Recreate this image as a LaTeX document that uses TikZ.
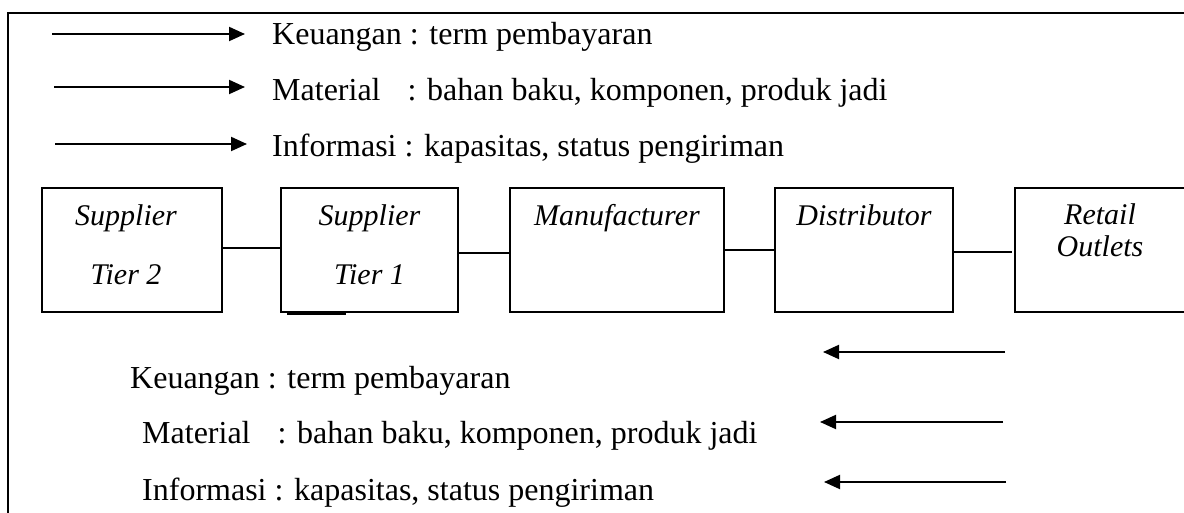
\documentclass[tikz,border=0pt]{standalone}
\usepackage{fontspec}
\setmainfont{Liberation Serif}
\usetikzlibrary{arrows.meta,positioning}
\tikzset{
  chainbox/.style={
    rectangle,
    draw=black,
    line width=2pt,
    minimum height=124pt,
    inner sep=0pt
  },
  boxtext/.style={
    font=\fontsize{30}{36}\selectfont\itshape,
    anchor=base,
    inner sep=0pt
  },
  flowtext/.style={
    font=\fontsize{32}{38}\selectfont,
    anchor=base west,
    inner sep=0pt
  },
  flow/.style={-{Triangle[length=16pt,width=14pt]}, line width=2pt},
  link/.style={line width=2pt}
}
\newcommand{\flowname}[1]{\rlap{#1}\phantom{Informasi}\hspace{3pt}}

\begin{document}
\begin{tikzpicture}[x=1pt,y=-1pt]
\useasboundingbox (0,0) rectangle (1184,513);
% frame (open at right and bottom)
\draw[line width=2.6pt] (1200,13) -- (8,13) -- (8,530);

% legend, forward flows
\coordinate (keuS) at (52,34);   \coordinate (keuE) at (245,34);
\coordinate (matS) at (54,87);   \coordinate (matE) at (245,87);
\coordinate (infS) at (55,144);  \coordinate (infE) at (247,144);
\node[flowtext] (keu) at (272,45) {Keuangan : term pembayaran};
\node[flowtext] (mat) at (272,101) {\flowname{Material} : bahan baku, komponen, produk jadi};
\node[flowtext] (inf) at (272,157) {Informasi : kapasitas, status pengiriman};
\draw[flow] (keuS) -- (keuE);
\draw[flow] (matS) -- (matE);
\draw[flow] (infS) -- (infE);

% supply chain
\node[chainbox, minimum width=180pt] (tiertwo) at (132,250) {};
\node[chainbox, minimum width=177pt] (tierone) at (369.5,250) {};
\node[chainbox, minimum width=214pt] (maker) at (617,250) {};
\node[chainbox, minimum width=178pt] (distrib) at (864,250) {};
\node[chainbox, minimum width=180pt] (retail) at (1105,250) {};

\node[boxtext] at ([xshift=-6pt,yshift=-39pt]tiertwo.north) {Supplier};
\node[boxtext] at ([xshift=-6pt,yshift=-98pt]tiertwo.north) {Tier 2};
\node[boxtext] at ([yshift=-39pt]tierone.north) {Supplier};
\node[boxtext] at ([yshift=-98pt]tierone.north) {Tier 1};
\node[boxtext] at ([yshift=-39pt]maker.north) {Manufacturer};
\node[boxtext] at ([yshift=-39pt]distrib.north) {Distributor};
\node[boxtext] at ([xshift=-5pt,yshift=-38pt]retail.north) {Retail};
\node[boxtext] at ([xshift=-5pt,yshift=-70pt]retail.north) {Outlets};

\draw[line width=3pt] ([xshift=7pt]tierone.south west) -- ([xshift=66pt]tierone.south west);

\draw[link] ([yshift=2pt]tiertwo.east) -- ([yshift=2pt]tierone.west);
\draw[link] ([yshift=-3pt]tierone.east) -- ([yshift=-3pt]maker.west);
\draw[link] (maker.east) -- (distrib.west);
\draw[link] ([yshift=-2pt]distrib.east) -- ([yshift=-2pt,xshift=-2pt]retail.west);

% legend, backward flows
\coordinate (keuB) at (1005,352); \coordinate (keuT) at (823,352);
\coordinate (matB) at (1003,422); \coordinate (matT) at (820,422);
\coordinate (infB) at (1006,482); \coordinate (infT) at (824,482);
\node[flowtext] (keub) at (130,388) {Keuangan : term pembayaran};
\node[flowtext] (matb) at (142,443) {\flowname{Material} : bahan baku, komponen, produk jadi};
\node[flowtext] (infb) at (142,500) {Informasi : kapasitas, status pengiriman};
\draw[flow] (keuB) -- (keuT);
\draw[flow] (matB) -- (matT);
\draw[flow] (infB) -- (infT);
\end{tikzpicture}
\end{document}
